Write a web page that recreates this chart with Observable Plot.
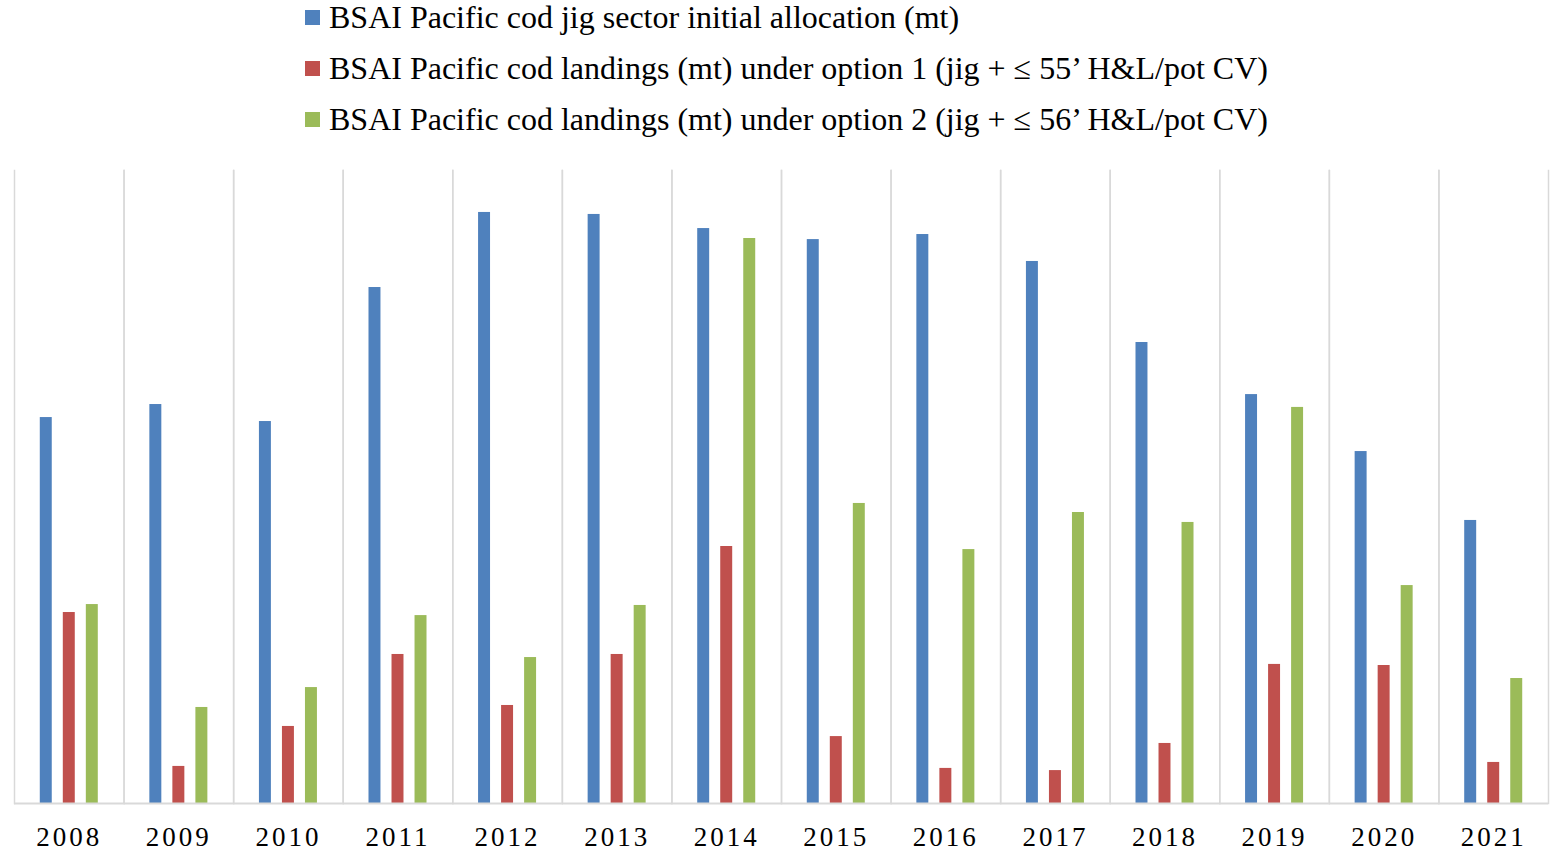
<!DOCTYPE html>
<html>
<head>
<meta charset="utf-8">
<script src="https://cdn.jsdelivr.net/npm/d3@7"></script>
<script src="https://cdn.jsdelivr.net/npm/@observablehq/plot@0.6"></script>
<style>
  html, body { margin: 0; padding: 0; background: #fff; }
  #wrap { width: 1550px; height: 851px; position: relative; overflow: hidden; }
  #legend { height: 145px; position: relative; font-family: "Liberation Serif", "Times New Roman", serif; font-size: 32px; color: #000; }
  #legend .row { position: absolute; left: 305px; display: flex; align-items: center; height: 40px; white-space: nowrap; }
  #legend .sw { width: 15px; height: 15px; margin-right: 9px; display: inline-block; }
  svg text { letter-spacing: 3px; }
</style>
</head>
<body>
<div id="wrap">
  <div id="legend"></div>
  <div id="chart"></div>
</div>
<script>
const years = ["2008","2009","2010","2011","2012","2013","2014","2015","2016","2017","2018","2019","2020","2021"];
const seriesNames = [
  "BSAI Pacific cod jig sector initial allocation (mt)",
  "BSAI Pacific cod landings (mt) under option 1 (jig + \u2264 55\u2019 H&L/pot CV)",
  "BSAI Pacific cod landings (mt) under option 2 (jig + \u2264 56\u2019 H&L/pot CV)"
];
const seriesColors = ["#4f81bd", "#c0504d", "#9bbb59"];
const allocation = [2134, 2206, 2112, 2853, 3268, 3257, 3179, 3118, 3146, 2997, 2549, 2261, 1946, 1565];
const option1    = [1056,  205,  426,  824,  542,  824, 1421,  370,  194,  182,  332,  769,  763,  227];
const option2    = [1100,  531,  641, 1039,  807, 1095, 3124, 1659, 1404, 1609, 1554, 2190, 1205,  691];

const valuesBySeries = [allocation, option1, option2];
const data = [];
years.forEach((yr, i) => {
  seriesNames.forEach((s, k) => data.push({year: yr, series: s, value: valuesBySeries[k][i]}));
});

// legend
const legend = document.getElementById("legend");
const rowCenters = [17, 68, 119];
seriesNames.forEach((s, k) => {
  const row = document.createElement("div");
  row.className = "row";
  row.style.top = (rowCenters[k] - 20) + "px";
  const sw = document.createElement("span");
  sw.className = "sw";
  sw.style.background = seriesColors[k];
  const tx = document.createElement("span");
  tx.textContent = s;
  row.appendChild(sw);
  row.appendChild(tx);
  legend.appendChild(row);
});

const grid = "#d9d9d9";
const chart = Plot.plot({
  width: 1550,
  height: 706,
  marginTop: 25,
  marginBottom: 48,
  marginLeft: 14,
  marginRight: 2,
  style: {fontFamily: "'Liberation Serif', 'Times New Roman', serif", fontSize: "27px", color: "#000", background: "#fff"},
  fx: {domain: years, padding: 0, round: false, tickSize: 0, tickPadding: 23, label: null},
  x: {domain: seriesNames, paddingInner: 0.48, paddingOuter: 1.12, round: false, axis: null},
  y: {domain: [0, 3500], axis: null},
  color: {domain: seriesNames, range: seriesColors},
  marks: [
    Plot.frame({anchor: "left", stroke: grid, strokeWidth: 1.5}),
    Plot.frame({anchor: "right", stroke: grid, strokeWidth: 1.5}),
    Plot.barY(data, {fx: "year", x: "series", y: "value", fill: "series"}),
    Plot.ruleY([0], {stroke: grid, strokeWidth: 2})
  ]
});
document.getElementById("chart").appendChild(chart);
</script>
</body>
</html>
